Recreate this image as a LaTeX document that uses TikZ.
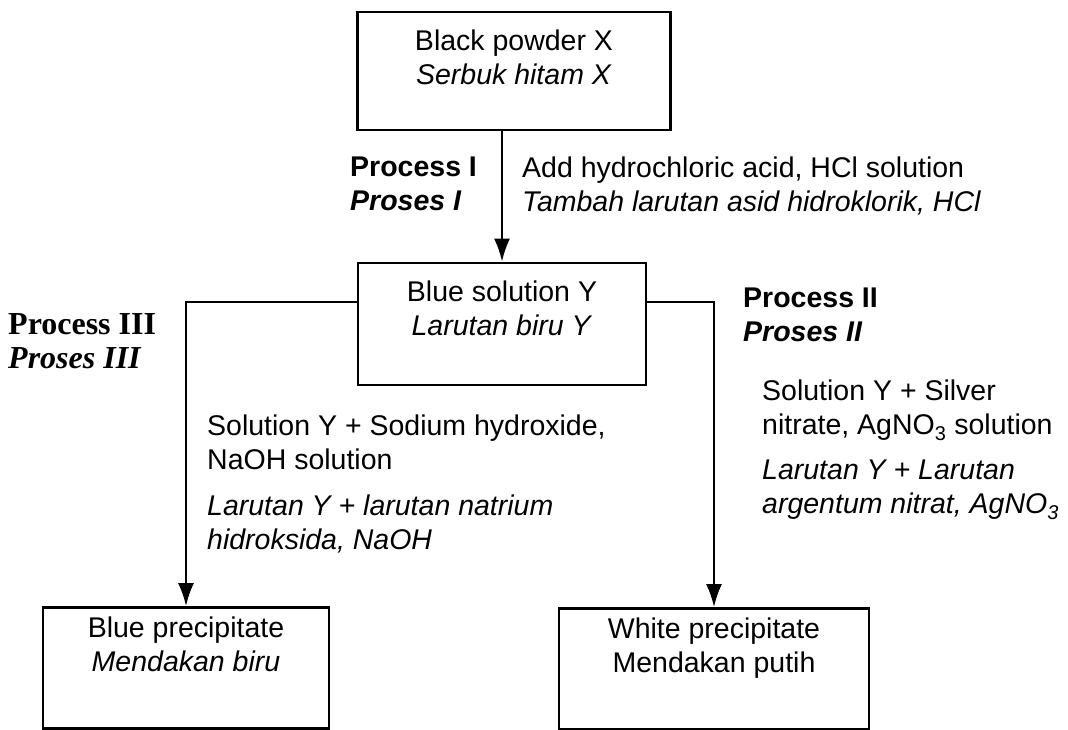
\documentclass[tikz,border=0pt]{standalone}
\usepackage{fontspec}
\setmainfont{Liberation Sans}
\newfontfamily\serifproc{Liberation Serif}
\usetikzlibrary{arrows.meta,positioning}
\tikzset{
	>=Latex,
	stagebox/.style={
		draw,
		line width=2.8pt,
		inner sep=0pt
	},
	stagetext/.style={
		align=center,
		inner sep=0pt,
		font=\fontsize{28.5}{34}\selectfont
	},
	note/.style={
		align=left,
		anchor=north west,
		inner sep=0pt,
		font=\fontsize{28.5}{34}\selectfont
	},
	conn/.style={
		-{Latex[length=23pt,width=16pt]},
		line width=2.3pt
	}
}
\begin{document}
\begin{tikzpicture}[x=1pt,y=-1pt]
	\useasboundingbox (0,0) rectangle (1068,730);
	
	% --- BLACK POWDER ---
	\node[stagebox, minimum width=313pt, minimum height=118pt] (powderX) at (514,71) {};
	\node[stagetext, below=19pt of powderX.north] (powderXtxt)
	{Black powder X\\\textit{Serbuk hitam X}};
	
	% --- BLUE SOLUTION ---
	\node[stagebox, minimum width=288pt, minimum height=122pt] (blueY) at (502,324) {};
	\node[stagetext, below=19pt of blueY.north] (blueYtxt)
	{Blue solution Y\\\textit{Larutan biru Y}};
	
	% --- PRECIPITATES ---
	\node[stagebox, minimum width=286pt, minimum height=121pt] (bluePpt) at (186,668) {};
	\node[stagetext, below=11pt of bluePpt.north] (bluePpttxt)
	{Blue precipitate\\\textit{Mendakan biru}};
	
	\node[stagebox, minimum width=310pt, minimum height=121pt] (whitePpt) at (714,669) {};
	\node[stagetext, below=11pt of whitePpt.north] (whitePpttxt)
	{White precipitate\\Mendakan putih};
	
	% --- PROCESS LABELS ---
	\node[note, font=\fontsize{28.5}{34}\selectfont\bfseries] (procI) at (350,157)
	{Process I\\\textit{Proses I}};
	\node[note] (addHCl) at (522,157)
	{Add hydrochloric acid, HCl solution\\\textit{Tambah larutan asid hidroklorik, HCl}};
	
	\node[note, font=\fontsize{32}{34}\serifproc\bfseries] (procIII) at (8,313)
	{Process III\\\textit{Proses III}};
	\node[note, font=\fontsize{28.5}{34}\selectfont\bfseries] (procII) at (743,288)
	{Process II\\\textit{Proses II}};
	
	\node[note] (naohTxt) at (207,415)
	{Solution Y + Sodium hydroxide,\\NaOH solution\\[12pt]
		\textit{Larutan Y + larutan natrium}\\\textit{hidroksida, NaOH}};
	\node[note] (agTxt) at (762,380)
	{Solution Y + Silver\\nitrate, AgNO\textsubscript{3} solution\\[11pt]
		\textit{Larutan Y + Larutan}\\\textit{argentum nitrat, AgNO\textsubscript{3}}};
	
	% --- CONNECTIONS ---
	\draw[conn] (powderX.south -| blueY.north) -- (blueY.north);
	\draw[conn] ([yshift=22pt]blueY.west) -| (bluePpt.north);
	\draw[conn] ([yshift=22pt]blueY.east) -| (whitePpt.north);
	
\end{tikzpicture}
\end{document}
